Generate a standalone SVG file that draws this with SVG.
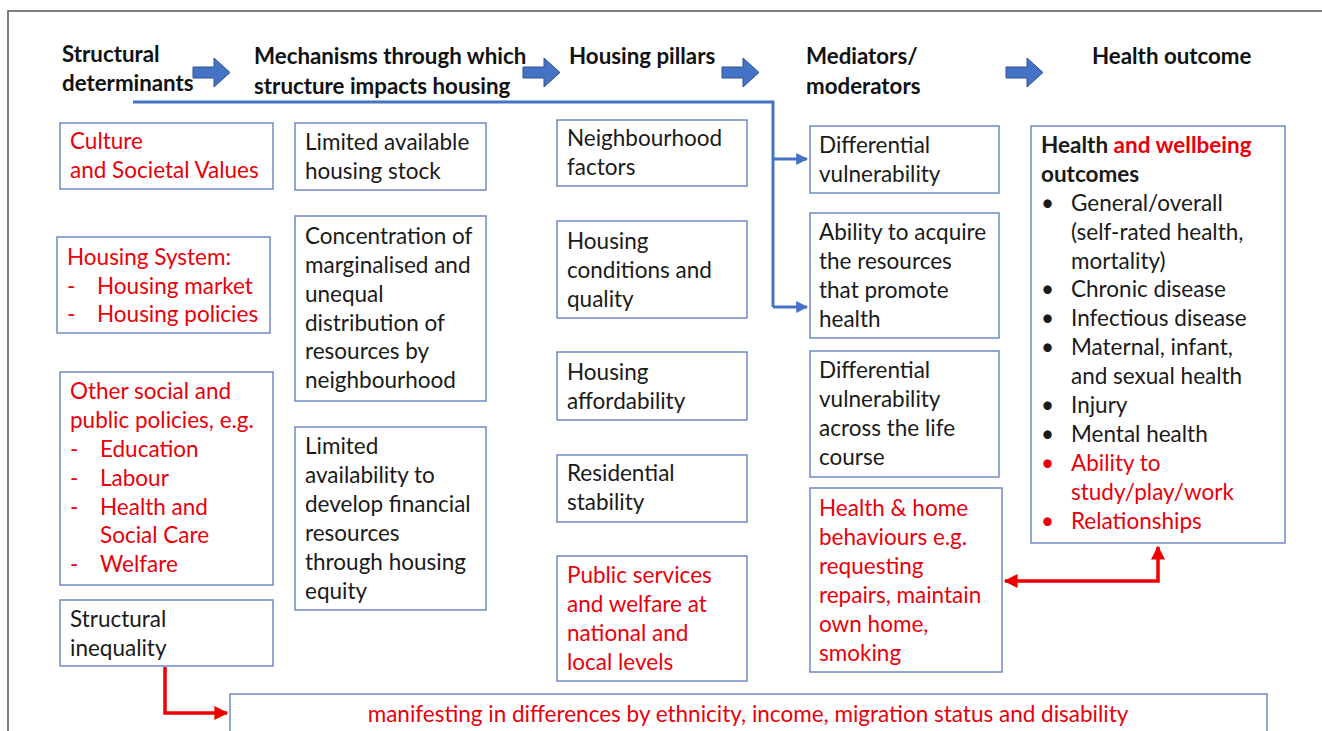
<svg xmlns="http://www.w3.org/2000/svg" width="1322" height="731" viewBox="0 0 1322 731">
  <defs>
    <style>
      .box { fill: #ffffff; stroke: #7088c4; stroke-width: 1.5; }
      .t { font-family: Lato, "Noto Sans", "Liberation Sans", sans-serif; font-size: 22.5px; fill: #1a1a1a; }
      .r { fill: #e8000b; }
      .h { font-family: Lato, "Noto Sans", "Liberation Sans", sans-serif; font-size: 22.3px; font-weight: bold; fill: #111111; }
      .b { font-weight: bold; }
      .blk { fill: #4472c4; stroke: #2f528f; stroke-width: 1; }
      .blue { fill: none; stroke: #4472c4; stroke-width: 3; }
      .red { fill: none; stroke: #ee0000; stroke-width: 3.5; }
    </style>
    <marker id="bh" viewBox="0 0 10 10" refX="9" refY="5" markerWidth="4" markerHeight="4" orient="auto">
      <path d="M0,0 L10,5 L0,10 z" fill="#4472c4"/>
    </marker>
    <marker id="rh" viewBox="0 0 10 10" refX="9" refY="5" markerWidth="4" markerHeight="4" orient="auto-start-reverse">
      <path d="M0,0 L10,5 L0,10 z" fill="#ee0000"/>
    </marker>
    <path id="blockArrow" d="M0,9 H21 V0 L37,14.5 L21,29 V20 H0 Z"/>
  </defs>

  <rect width="1322" height="731" fill="#ffffff"/>
  <!-- outer frame -->
  <path d="M8,731 V11 H1322" fill="none" stroke="#555555" stroke-width="1.5"/>

  <!-- column headings -->
  <g id="headings">
    <text class="h" x="62" y="62">Structural</text>
    <text class="h" x="62" y="91">determinants</text>
    <text class="h" x="254" y="64">Mechanisms through which</text>
    <text class="h" x="254" y="94">structure impacts housing</text>
    <text class="h" x="569" y="64">Housing pillars</text>
    <text class="h" x="806" y="64">Mediators/</text>
    <text class="h" x="806" y="94">moderators</text>
    <text class="h" x="1092" y="64">Health outcome</text>
  </g>

  <!-- block arrows between headings -->
  <g id="flow-arrows">
    <use href="#blockArrow" class="blk" x="193" y="58"/>
    <use href="#blockArrow" class="blk" x="523" y="58"/>
    <use href="#blockArrow" class="blk" x="722" y="58"/>
    <use href="#blockArrow" class="blk" x="1006" y="58"/>
  </g>

  <!-- connectors -->
  <g id="connectors">
    <path class="blue" d="M133,102 H773 V307"/>
    <path class="blue" d="M773,159 H807" marker-end="url(#bh)"/>
    <path class="blue" d="M773,307 H807" marker-end="url(#bh)"/>
    <path class="red" d="M165,667 V713 H227" marker-end="url(#rh)"/>
    <path class="red" d="M1005,581 H1158 V547" marker-start="url(#rh)" marker-end="url(#rh)"/>
  </g>

  <!-- Structural determinants -->
  <g id="culture">
    <rect class="box" x="60" y="123" width="213" height="66"/>
    <text class="t r" x="70" y="149">Culture</text>
    <text class="t r" x="70" y="178">and Societal Values</text>
  </g>
  <g id="housing-system">
    <rect class="box" x="57" y="237" width="213" height="96"/>
    <text class="t r" x="67" y="265">Housing System:</text>
    <text class="t r" x="67" y="294">-</text><text class="t r" x="97" y="294">Housing market</text>
    <text class="t r" x="67" y="322">-</text><text class="t r" x="97" y="322">Housing policies</text>
  </g>
  <g id="other-policies">
    <rect class="box" x="60" y="372" width="213" height="213"/>
    <text class="t r" x="70" y="399">Other social and</text>
    <text class="t r" x="70" y="428">public policies, e.g.</text>
    <text class="t r" x="70" y="457">-</text><text class="t r" x="100" y="457">Education</text>
    <text class="t r" x="70" y="486">-</text><text class="t r" x="100" y="486">Labour</text>
    <text class="t r" x="70" y="515">-</text><text class="t r" x="100" y="515">Health and</text>
    <text class="t r" x="100" y="543">Social Care</text>
    <text class="t r" x="70" y="572">-</text><text class="t r" x="100" y="572">Welfare</text>
  </g>
  <g id="structural-inequality">
    <rect class="box" x="60" y="600" width="213" height="66"/>
    <text class="t" x="70" y="627">Structural</text>
    <text class="t" x="70" y="656">inequality</text>
  </g>

  <!-- Mechanisms -->
  <g id="housing-stock">
    <rect class="box" x="295" y="123" width="191" height="67"/>
    <text class="t" x="305" y="150">Limited available</text>
    <text class="t" x="305" y="179">housing stock</text>
  </g>
  <g id="concentration">
    <rect class="box" x="295" y="216" width="191" height="185"/>
    <text class="t" x="305" y="244">Concentration of</text>
    <text class="t" x="305" y="273">marginalised and</text>
    <text class="t" x="305" y="302">unequal</text>
    <text class="t" x="305" y="331">distribution of</text>
    <text class="t" x="305" y="359">resources by</text>
    <text class="t" x="305" y="388">neighbourhood</text>
  </g>
  <g id="financial-resources">
    <rect class="box" x="295" y="427" width="191" height="183"/>
    <text class="t" x="305" y="454">Limited</text>
    <text class="t" x="305" y="483">availability to</text>
    <text class="t" x="305" y="512">develop financial</text>
    <text class="t" x="305" y="541">resources</text>
    <text class="t" x="305" y="570">through housing</text>
    <text class="t" x="305" y="599">equity</text>
  </g>

  <!-- Housing pillars -->
  <g id="neighbourhood">
    <rect class="box" x="557" y="120" width="190" height="66"/>
    <text class="t" x="567" y="146">Neighbourhood</text>
    <text class="t" x="567" y="175">factors</text>
  </g>
  <g id="conditions">
    <rect class="box" x="557" y="221" width="190" height="97"/>
    <text class="t" x="567" y="249">Housing</text>
    <text class="t" x="567" y="278">conditions and</text>
    <text class="t" x="567" y="307">quality</text>
  </g>
  <g id="affordability">
    <rect class="box" x="557" y="352" width="190" height="68"/>
    <text class="t" x="567" y="380">Housing</text>
    <text class="t" x="567" y="409">affordability</text>
  </g>
  <g id="stability">
    <rect class="box" x="557" y="455" width="190" height="67"/>
    <text class="t" x="567" y="481">Residential</text>
    <text class="t" x="567" y="510">stability</text>
  </g>
  <g id="public-services">
    <rect class="box" x="557" y="556" width="190" height="125"/>
    <text class="t r" x="567" y="583">Public services</text>
    <text class="t r" x="567" y="612">and welfare at</text>
    <text class="t r" x="567" y="641">national and</text>
    <text class="t r" x="567" y="670">local levels</text>
  </g>

  <!-- Mediators / moderators -->
  <g id="vulnerability">
    <rect class="box" x="810" y="126" width="189" height="67"/>
    <text class="t" x="819" y="153">Differential</text>
    <text class="t" x="819" y="182">vulnerability</text>
  </g>
  <g id="acquire-resources">
    <rect class="box" x="810" y="213" width="189" height="125"/>
    <text class="t" x="819" y="240">Ability to acquire</text>
    <text class="t" x="819" y="269">the resources</text>
    <text class="t" x="819" y="298">that promote</text>
    <text class="t" x="819" y="327">health</text>
  </g>
  <g id="life-course">
    <rect class="box" x="810" y="351" width="189" height="126"/>
    <text class="t" x="819" y="378">Differential</text>
    <text class="t" x="819" y="407">vulnerability</text>
    <text class="t" x="819" y="436">across the life</text>
    <text class="t" x="819" y="465">course</text>
  </g>
  <g id="behaviours">
    <rect class="box" x="810" y="488" width="192" height="184"/>
    <text class="t r" x="819" y="516">Health &amp; home</text>
    <text class="t r" x="819" y="545">behaviours e.g.</text>
    <text class="t r" x="819" y="574">requesting</text>
    <text class="t r" x="819" y="603">repairs, maintain</text>
    <text class="t r" x="819" y="632">own home,</text>
    <text class="t r" x="819" y="661">smoking</text>
  </g>

  <!-- Health outcomes -->
  <g id="outcomes">
    <rect class="box" x="1031" y="126" width="254" height="417"/>
    <text class="t b" x="1041" y="153">Health <tspan class="r">and wellbeing</tspan></text>
    <text class="t b" x="1041" y="182">outcomes</text>
    <g class="t">
      <text x="1041" y="211">•</text><text x="1071" y="211">General/overall</text>
      <text x="1071" y="240">(self-rated health,</text>
      <text x="1071" y="269">mortality)</text>
      <text x="1041" y="297">•</text><text x="1071" y="297">Chronic disease</text>
      <text x="1041" y="326">•</text><text x="1071" y="326">Infectious disease</text>
      <text x="1041" y="355">•</text><text x="1071" y="355">Maternal, infant,</text>
      <text x="1071" y="384">and sexual health</text>
      <text x="1041" y="413">•</text><text x="1071" y="413">Injury</text>
      <text x="1041" y="442">•</text><text x="1071" y="442">Mental health</text>
    </g>
    <g class="t r">
      <text x="1041" y="471">•</text><text x="1071" y="471">Ability to</text>
      <text x="1071" y="500">study/play/work</text>
      <text x="1041" y="529">•</text><text x="1071" y="529">Relationships</text>
    </g>
  </g>

  <!-- manifestation banner -->
  <g id="manifesting">
    <rect class="box" x="230" y="694" width="1037" height="60"/>
    <text class="t r" x="748" y="722" text-anchor="middle">manifesting in differences by ethnicity, income, migration status and disability</text>
  </g>
</svg>
